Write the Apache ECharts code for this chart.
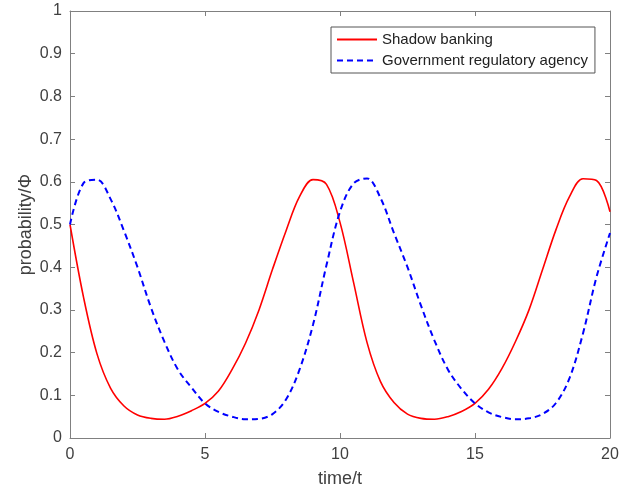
<!DOCTYPE html>
<html>
<head>
    <meta charset="utf-8">
    <script src="https://cdn.jsdelivr.net/npm/echarts@6/dist/echarts.min.js"></script>
    <style>
        html, body { margin: 0; padding: 0; background: #fff; }
        #main { width: 630px; height: 491px; }
    </style>
</head>
<body>
<div id="main"></div>
<script>
// time grid (t), every 0.5
var time = [];
for (var k = 0; k <= 40; k++) time.push(k / 2);

var shadowBanking = [
    0.50, 0.33, 0.197, 0.117, 0.075, 0.054, 0.046, 0.044, 0.051, 0.064,
    0.081, 0.11, 0.16, 0.222, 0.30, 0.395, 0.485, 0.565, 0.605, 0.594,
    0.505, 0.365, 0.224, 0.132, 0.083, 0.056, 0.046, 0.044, 0.05, 0.062,
    0.081, 0.114, 0.163, 0.226, 0.30, 0.394, 0.488, 0.565, 0.607, 0.603,
    0.53
];

var govAgency = [
    0.50, 0.597, 0.605, 0.56, 0.485, 0.40, 0.305, 0.225, 0.16, 0.118,
    0.081, 0.061, 0.05, 0.044, 0.045, 0.056, 0.09, 0.16, 0.265, 0.405,
    0.53, 0.596, 0.608, 0.562, 0.48, 0.40, 0.31, 0.228, 0.16, 0.115,
    0.081, 0.06, 0.049, 0.044, 0.046, 0.056, 0.082, 0.14, 0.245, 0.377,
    0.48
];

var xTicks = [0, 5, 10, 15, 20];
var yTicks = [0, 0.1, 0.2, 0.3, 0.4, 0.5, 0.6, 0.7, 0.8, 0.9, 1];

function pairs(ys) {
    return time.map(function (t, i) { return [t, ys[i]]; });
}

var font = 'Liberation Sans, Arial, sans-serif';
var axisColor = '#808080';
var textColor = '#404040';

var chart = echarts.init(document.getElementById('main'));

function xAxisOf(pos, show) {
    return {
        type: 'value', position: pos, min: 0, max: 20, interval: 5,
        name: show ? 'time/t' : '', nameLocation: 'middle', nameGap: 32,
        nameMoveOverlap: false,
        nameTextStyle: { fontFamily: font, fontSize: 18, color: textColor },
        axisLine: { show: true, onZero: false, lineStyle: { color: axisColor, width: 1 } },
        axisTick: { show: true, inside: true, length: 5, lineStyle: { color: axisColor } },
        axisLabel: { show: show, margin: 9, fontFamily: font, fontSize: 16, color: textColor,
            formatter: function (v) { return xTicks.indexOf(v) >= 0 ? String(v) : ''; } },
        splitLine: { show: false }
    };
}

function yAxisOf(pos, show) {
    return {
        type: 'value', position: pos, min: 0, max: 1, interval: 0.1,
        name: show ? 'probability/\u03A6' : '', nameLocation: 'middle', nameGap: 35,
        nameMoveOverlap: false,
        nameTextStyle: { fontFamily: font, fontSize: 18, color: textColor },
        axisLine: { show: true, onZero: false, lineStyle: { color: axisColor, width: 1 } },
        axisTick: { show: true, inside: true, length: 5, lineStyle: { color: axisColor } },
        axisLabel: { show: show, margin: 8, fontFamily: font, fontSize: 16, color: textColor,
            formatter: function (v) {
                var r = Math.round(v * 10) / 10;
                return yTicks.indexOf(r) >= 0 ? String(r) : '';
            } },
        splitLine: { show: false }
    };
}

var option = {
    backgroundColor: '#fff',
    animation: false,
    grid: { left: 70, right: 20, top: 11, bottom: 53, outerBoundsMode: 'none' },
    legend: {
        orient: 'vertical',
        left: 331, top: 27,
        padding: [5, 7, 5, 5],
        itemWidth: 40, itemHeight: 14, itemGap: 6,
        borderColor: '#555', borderWidth: 1,
        backgroundColor: '#fff',
        itemStyle: { opacity: 0 },
        textStyle: { fontFamily: font, fontSize: 15, color: '#222' },
        data: ['Shadow banking', 'Government regulatory agency']
    },
    xAxis: [xAxisOf('bottom', true), xAxisOf('top', false)],
    yAxis: [yAxisOf('left', true), yAxisOf('right', false)],
    series: [
        {
            name: 'Shadow banking', type: 'line', smooth: 0.35,
            showSymbol: false, symbol: 'none',
            lineStyle: { color: '#ff0000', width: 1.6 },
            itemStyle: { color: '#ff0000' },
            data: pairs(shadowBanking)
        },
        {
            name: 'Government regulatory agency', type: 'line', smooth: 0.35,
            showSymbol: false, symbol: 'none',
            lineStyle: { color: '#0000ff', width: 2, type: [6, 4] },
            itemStyle: { color: '#0000ff' },
            data: pairs(govAgency)
        }
    ]
};

chart.setOption(option);
</script>
</body>
</html>
